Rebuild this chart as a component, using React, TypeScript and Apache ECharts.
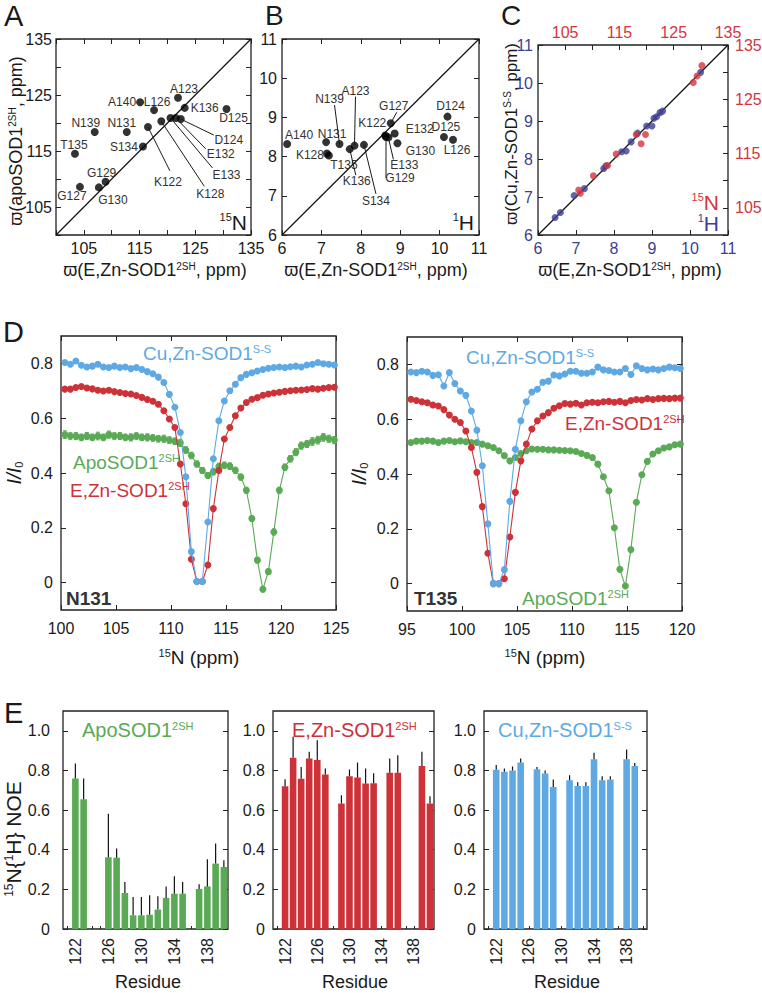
import React, { useEffect, useRef } from 'react';
import * as echarts from 'echarts';

const FONT = '"Liberation Sans", Arial, "DejaVu Sans", sans-serif';
const INK = '#1a1a1a';
const FRAME = '#222222';
const C_BLUE = '#5ea9e4';
const C_RED = '#cd3238';
const C_GREEN = '#5aaa55';
const C_NAVY = '#3d3f92';
const C_NRED = '#d3363d';

// ---------- Panels A & B : chemical shifts ----------
const residuesAB = ['K122', 'A123', 'D124', 'D125', 'L126', 'G127', 'K128', 'G129', 'G130', 'N131', 'E132', 'E133', 'S134', 'T135', 'K136', 'N139', 'A140'];
const nEZn = [116.5, 121.9, 122.4, 130.6, 117.6, 104.3, 118.9, 108.9, 107.7, 112.7, 121.5, 120.55, 115.6, 103.4, 123.1, 106.95, 115.1];
const nApo = [119.3, 124.5, 120.7, 122.5, 122.3, 108.6, 120.3, 109.5, 108.5, 118.4, 120.9, 120.9, 115.8, 114.5, 122.7, 118.4, 123.7];
const hEZn = [8.62, 7.84, 10.2, 10.11, 10.34, 8.76, 7.14, 8.64, 8.93, 7.12, 8.86, 8.7, 8.08, 7.19, 7.72, 7.46, 6.13];
const hApo = [8.54, 8.28, 9.02, 8.5, 8.43, 8.85, 8.08, 8.5, 8.34, 8.37, 8.59, 8.49, 8.3, 8.03, 8.19, 8.32, 8.32];

// label placement (pixel offsets from the point): label centre and optional leader-line end
const layoutA: any[] = [
  { l: [20, 55], ln: [22, 44] }, { l: [6, -9] }, { l: [48, 21], ln: [33, 16] }, { l: [7, 9] }, { l: [3, -8] },
  { l: [-8, 9] }, { l: [49, 73], ln: [43, 65] }, { l: [-4, -9] }, { l: [14, 13] }, { l: [-5, -9] },
  { l: [45, 36], ln: [30, 31] }, { l: [56, 57], ln: [42, 50] }, { l: [-19, 0] }, { l: [-1, -9] }, { l: [20, 0] },
  { l: [-9, -9] }, { l: [-18, 0] },
];
const layoutB: any[] = [
  { l: [-13, -12] }, { l: [1, -55], ln: [1, -49] }, { l: [3, -11] }, { l: [2, -10] }, { l: [4, 10] },
  { l: [3, -17], ln: [6, -11] }, { l: [-17, 2] }, { l: [14, 41], ln: [0, 41] }, { l: [23, 8] }, { l: [6, -8] },
  { l: [25, -4] }, { l: [16, 28], ln: [5, 22] }, { l: [12, 56], ln: [12, 49] }, { l: [15, 10] }, { l: [7, 32], ln: [6, 26] },
  { l: [-10, -45], ln: [-5, -39] }, { l: [12, -9] },
];

// ---------- Panel C : E,Zn vs Cu,Zn ----------
const cH_EZn = [6.45, 6.59, 6.95, 7.22, 7.73, 7.79, 8.2, 8.32, 8.45, 8.62, 8.86, 9.0, 9.05, 9.12, 9.21, 9.28, 10.28];
const cH_CuZn = [6.46, 6.59, 7.04, 7.22, 7.75, 7.82, 8.19, 8.21, 8.45, 8.68, 8.87, 8.87, 9.07, 9.11, 9.22, 9.26, 10.28];
const cN_EZn = [107.8, 107.5, 110.2, 112.8, 114.4, 118.1, 119.8, 119.0, 128.6, 129.3, 130.2];
const cN_CuZn = [107.7, 108.3, 110.9, 112.8, 114.9, 118.5, 118.5, 116.8, 128.1, 129.3, 131.2];

// ---------- Panel D : CEST profiles ----------
const n131Offsets = [100.35, 100.85, 101.35, 101.85, 102.35, 102.85, 103.35, 103.85, 104.35, 104.85, 105.35, 105.85, 106.35, 106.85, 107.35, 107.85, 108.35, 108.85, 109.35, 109.85, 110.35, 110.85, 111.35, 111.85, 112.35, 112.85, 113.35, 113.85, 114.35, 114.85, 115.35, 115.85, 116.35, 116.85, 117.35, 117.85, 118.35, 118.85, 119.35, 119.85, 120.35, 120.85, 121.35, 121.85, 122.35, 122.85, 123.35, 123.85, 124.35, 124.85];
const n131CuZn = [0.803, 0.797, 0.809, 0.793, 0.787, 0.79, 0.797, 0.787, 0.785, 0.79, 0.785, 0.787, 0.781, 0.785, 0.778, 0.77, 0.762, 0.75, 0.73, 0.687, 0.64, 0.548, 0.386, 0.113, 0.004, 0.004, 0.221, 0.452, 0.591, 0.663, 0.7, 0.724, 0.748, 0.76, 0.766, 0.772, 0.778, 0.782, 0.785, 0.787, 0.785, 0.788, 0.79, 0.787, 0.794, 0.797, 0.803, 0.799, 0.797, 0.794];
const n131EZn = [0.706, 0.706, 0.712, 0.716, 0.71, 0.707, 0.702, 0.699, 0.702, 0.697, 0.694, 0.69, 0.688, 0.683, 0.676, 0.668, 0.662, 0.651, 0.627, 0.597, 0.566, 0.433, 0.288, 0.085, 0.004, 0.004, 0.064, 0.27, 0.409, 0.524, 0.566, 0.609, 0.637, 0.657, 0.669, 0.675, 0.684, 0.688, 0.692, 0.695, 0.698, 0.7, 0.702, 0.703, 0.705, 0.708, 0.706, 0.709, 0.712, 0.713];
const n131Apo = [0.54, 0.535, 0.535, 0.53, 0.535, 0.53, 0.535, 0.53, 0.54, 0.535, 0.535, 0.53, 0.53, 0.535, 0.53, 0.53, 0.528, 0.525, 0.525, 0.52, 0.516, 0.51, 0.484, 0.464, 0.433, 0.409, 0.391, 0.405, 0.424, 0.428, 0.425, 0.41, 0.385, 0.337, 0.234, 0.082, -0.024, 0.04, 0.185, 0.337, 0.421, 0.452, 0.476, 0.5, 0.506, 0.515, 0.52, 0.53, 0.525, 0.52];
const n131ApoErr = [0.014, 0.012, 0.013, 0.012, 0.013, 0.012, 0.014, 0.012, 0.013, 0.012, 0.013, 0.012, 0.013, 0.012, 0.012, 0.013, 0.012, 0.012, 0.013, 0.012, 0.012, 0.013, 0.012, 0.012, 0.011, 0.011, 0.011, 0.012, 0.012, 0.012, 0.012, 0.011, 0.011, 0.011, 0.01, 0.01, 0.01, 0.01, 0.011, 0.011, 0.012, 0.012, 0.013, 0.013, 0.013, 0.014, 0.014, 0.014, 0.013, 0.013];

const t135Offsets = [95.35, 95.85, 96.35, 96.85, 97.35, 97.85, 98.35, 98.85, 99.35, 99.85, 100.35, 100.85, 101.35, 101.85, 102.35, 102.85, 103.35, 103.85, 104.35, 104.85, 105.35, 105.85, 106.35, 106.85, 107.35, 107.85, 108.35, 108.85, 109.35, 109.85, 110.35, 110.85, 111.35, 111.85, 112.35, 112.85, 113.35, 113.85, 114.35, 114.85, 115.35, 115.85, 116.35, 116.85, 117.35, 117.85, 118.35, 118.85, 119.35, 119.85];
const t135CuZn = [0.772, 0.77, 0.775, 0.772, 0.76, 0.762, 0.721, 0.77, 0.73, 0.703, 0.687, 0.63, 0.56, 0.43, 0.218, 0.0, 0.0, 0.051, 0.3, 0.49, 0.594, 0.664, 0.699, 0.709, 0.735, 0.739, 0.761, 0.758, 0.765, 0.775, 0.775, 0.768, 0.768, 0.772, 0.79, 0.78, 0.778, 0.772, 0.772, 0.785, 0.763, 0.795, 0.785, 0.78, 0.783, 0.78, 0.785, 0.79, 0.788, 0.785];
const t135EZn = [0.673, 0.668, 0.664, 0.66, 0.652, 0.648, 0.635, 0.615, 0.6, 0.588, 0.557, 0.497, 0.406, 0.281, 0.111, 0.0, 0.0, 0.018, 0.17, 0.333, 0.448, 0.509, 0.564, 0.594, 0.612, 0.624, 0.64, 0.649, 0.657, 0.655, 0.658, 0.652, 0.66, 0.662, 0.66, 0.664, 0.665, 0.662, 0.665, 0.66, 0.668, 0.672, 0.67, 0.675, 0.672, 0.675, 0.676, 0.675, 0.677, 0.677];
const t135Apo = [0.515, 0.52, 0.52, 0.522, 0.52, 0.515, 0.52, 0.522, 0.518, 0.521, 0.518, 0.515, 0.515, 0.509, 0.503, 0.497, 0.485, 0.467, 0.448, 0.46, 0.475, 0.485, 0.491, 0.49, 0.49, 0.488, 0.488, 0.487, 0.486, 0.485, 0.482, 0.475, 0.468, 0.46, 0.436, 0.39, 0.339, 0.204, 0.052, -0.009, 0.124, 0.297, 0.397, 0.446, 0.473, 0.485, 0.495, 0.499, 0.507, 0.509];

// ---------- Panel E : heteronuclear NOE ----------
const residuesE = [122, 123, 124, 125, 126, 127, 128, 129, 130, 131, 132, 133, 134, 135, 136, 137, 138, 139, 140];
const noeApo = [0.76, 0.655, null, null, 0.362, 0.36, 0.182, 0.069, 0.069, 0.072, 0.098, 0.157, 0.178, 0.178, null, 0.202, 0.215, 0.33, 0.313];
const errApo = [0.075, 0.105, null, null, 0.22, 0.046, 0.055, 0.093, 0.093, 0.098, 0.067, 0.058, 0.088, 0.059, null, 0.024, 0.137, 0.101, 0.034];
const noeEZn = [0.72, 0.864, 0.758, 0.86, 0.853, 0.78, null, 0.633, 0.771, 0.764, 0.734, 0.736, null, 0.788, 0.788, null, null, 0.822, 0.633];
const errEZn = [0.036, 0.106, 0.06, 0.034, 0.1, 0.03, null, 0.042, 0.034, 0.076, 0.076, 0.05, null, 0.072, 0.089, null, null, 0.072, 0.037];
const noeCu = [0.803, 0.793, 0.8, 0.84, null, 0.806, 0.785, 0.717, null, 0.75, 0.722, 0.722, 0.857, 0.75, 0.754, null, 0.857, 0.822, null];
const errCu = [0.024, 0.017, 0.02, 0.02, null, 0.012, 0.015, 0.037, null, 0.026, 0.018, 0.018, 0.032, 0.021, 0.017, null, 0.049, 0.016, null];

const abTicks = [105, 115, 125, 135];
const hTicks = [6, 7, 8, 9, 10, 11];
const dYTicks = [0, 0.2, 0.4, 0.6, 0.8];
const eYTicks = [0, 0.2, 0.4, 0.6, 0.8, 1.0];
const eXLabels = ['122', '126', '130', '134', '138'];
const eXCategories = ['121', '122', '123', '124', '125', '126', '127', '128', '129', '130', '131', '132', '133', '134', '135', '136', '137', '138', '139', '140'];

// ---------- layout ----------
const grids = [
  { left: 56, top: 39, width: 195, height: 196 },   // A
  { left: 282, top: 39, width: 197, height: 196 },  // B
  { left: 538, top: 45, width: 190, height: 190 },  // C
  { left: 61, top: 336, width: 275, height: 274 },  // D left
  { left: 407, top: 337, width: 275, height: 274 }, // D right
  { left: 63, top: 711, width: 165, height: 218 },  // E apo
  { left: 273, top: 711, width: 161, height: 218 }, // E E,Zn
  { left: 484, top: 711, width: 163, height: 218 }, // E Cu,Zn
];

function mkAxis(o: any) {
  const label: any = {
    show: !!o.labels, color: o.color || INK, fontSize: o.fontSize || 16, fontFamily: FONT,
    margin: o.margin ?? 6, hideOverlap: false,
  };
  if (Array.isArray(o.labels)) label.customValues = o.labels;
  if (o.fmt) label.formatter = o.fmt;
  const tick: any = { show: o.tickShow !== false, inside: true, length: o.tickLen || 5, lineStyle: { color: FRAME, width: 1 } };
  if (o.ticks) tick.customValues = o.ticks;
  const ax: any = {
    type: 'value', gridIndex: o.grid, position: o.pos, min: o.min, max: o.max,
    axisLine: { show: false, onZero: false }, splitLine: { show: false },
    axisTick: tick, axisLabel: label,
  };
  if (o.interval) ax.interval = o.interval;
  return ax;
}

function mkCatAxis(grid: number, pos: string, withLabels: boolean) {
  return {
    type: 'category', gridIndex: grid, position: pos, data: eXCategories, boundaryGap: true,
    axisLine: { show: false, onZero: false }, splitLine: { show: false },
    axisTick: { show: withLabels, inside: true, length: 3, alignWithLabel: true, interval: 0, lineStyle: { color: FRAME, width: 1 } },
    axisLabel: {
      show: withLabels, rotate: 90, margin: 9, fontSize: 16, color: INK, fontFamily: FONT,
      interval: (i: number, v: string) => eXLabels.indexOf(v) >= 0,
    },
  };
}

const dFmt = (v: number) => (Math.abs(v) < 1e-9 ? '0' : v.toFixed(1));

function buildAxes() {
  const xs: any[] = [];
  const ys: any[] = [];
  // A
  xs.push(mkAxis({ grid: 0, pos: 'bottom', min: 100, max: 135, interval: 5, labels: abTicks, margin: 5 }));
  xs.push(mkAxis({ grid: 0, pos: 'top', min: 100, max: 135, interval: 5 }));
  ys.push(mkAxis({ grid: 0, pos: 'left', min: 100, max: 135, interval: 5, labels: abTicks, margin: 4 }));
  ys.push(mkAxis({ grid: 0, pos: 'right', min: 100, max: 135, interval: 5 }));
  // B
  xs.push(mkAxis({ grid: 1, pos: 'bottom', min: 6, max: 11, interval: 1, labels: hTicks, margin: 5 }));
  xs.push(mkAxis({ grid: 1, pos: 'top', min: 6, max: 11, interval: 1 }));
  ys.push(mkAxis({ grid: 1, pos: 'left', min: 6, max: 11, interval: 1, labels: hTicks, margin: 5 }));
  ys.push(mkAxis({ grid: 1, pos: 'right', min: 6, max: 11, interval: 1 }));
  // C
  xs.push(mkAxis({ grid: 2, pos: 'bottom', min: 6, max: 11, interval: 1, labels: hTicks, color: C_NAVY, margin: 5 }));
  xs.push(mkAxis({ grid: 2, pos: 'top', min: 100, max: 135, interval: 5, labels: abTicks, color: C_NRED, margin: 5 }));
  ys.push(mkAxis({ grid: 2, pos: 'left', min: 6, max: 11, interval: 1, labels: hTicks, color: C_NAVY, margin: 5 }));
  ys.push(mkAxis({ grid: 2, pos: 'right', min: 100, max: 135, interval: 5, labels: abTicks, color: C_NRED, margin: 7 }));
  // D left
  xs.push(mkAxis({ grid: 3, pos: 'bottom', min: 100, max: 125, interval: 5, labels: true, margin: 10 }));
  xs.push(mkAxis({ grid: 3, pos: 'top', min: 100, max: 125, interval: 5 }));
  ys.push(mkAxis({ grid: 3, pos: 'left', min: -0.1, max: 0.9, ticks: dYTicks, labels: dYTicks, fmt: dFmt, margin: 8 }));
  ys.push(mkAxis({ grid: 3, pos: 'right', min: -0.1, max: 0.9, ticks: dYTicks }));
  // D right
  xs.push(mkAxis({ grid: 4, pos: 'bottom', min: 95, max: 120, interval: 5, labels: true, margin: 10 }));
  xs.push(mkAxis({ grid: 4, pos: 'top', min: 95, max: 120, interval: 5 }));
  ys.push(mkAxis({ grid: 4, pos: 'left', min: -0.1, max: 0.9, ticks: dYTicks, labels: dYTicks, fmt: dFmt, margin: 8 }));
  ys.push(mkAxis({ grid: 4, pos: 'right', min: -0.1, max: 0.9, ticks: dYTicks }));
  // E panels
  for (let k = 0; k < 3; k++) {
    const g = 5 + k;
    xs.push(mkCatAxis(g, 'bottom', true));
    xs.push(mkCatAxis(g, 'top', false));
    ys.push(mkAxis({ grid: g, pos: 'left', min: 0, max: 1.1, ticks: eYTicks, labels: eYTicks, fmt: dFmt, margin: k === 0 ? 13 : 8 }));
    ys.push(mkAxis({ grid: g, pos: 'right', min: 0, max: 1.1, ticks: eYTicks }));
  }
  return { xs, ys };
}

function labelSeries(axis: number, xv: number[], yv: number[], layout: any[]) {
  return {
    type: 'custom', xAxisIndex: axis, yAxisIndex: axis, silent: true, z: 4,
    data: residuesAB.map((_, i) => [xv[i], yv[i], i]),
    renderItem: (params: any, api: any) => {
      const i = api.value(2);
      const p = api.coord([api.value(0), api.value(1)]);
      const L = layout[i];
      const children: any[] = [];
      if (L.ln) {
        children.push({
          type: 'line',
          shape: { x1: p[0], y1: p[1], x2: p[0] + L.ln[0], y2: p[1] + L.ln[1] },
          style: { stroke: '#1a1a1a', lineWidth: 1 },
        });
      }
      children.push({
        type: 'text', x: p[0] + L.l[0], y: p[1] + L.l[1],
        style: { text: residuesAB[i], fill: '#333', fontSize: 12, fontFamily: FONT, align: 'center', verticalAlign: 'middle' },
      });
      return { type: 'group', children };
    },
  };
}

function diagSeries(axis: number, lo: number, hi: number) {
  return {
    type: 'line', xAxisIndex: axis, yAxisIndex: axis, data: [[lo, lo], [hi, hi]],
    symbol: 'none', lineStyle: { color: '#111', width: 1.2 }, z: 2, silent: true,
  };
}

function cestLine(axis: number, xv: number[], yv: number[], color: string, z: number) {
  return {
    type: 'line', xAxisIndex: axis, yAxisIndex: axis, data: xv.map((x, i) => [x, yv[i]]),
    symbol: 'circle', symbolSize: 7, showSymbol: true, z,
    lineStyle: { color, width: 1.1 }, itemStyle: { color, borderWidth: 0 },
  };
}

function cestErr(axis: number, xv: number[], yv: number[], ev: number[], color: string) {
  return {
    type: 'custom', xAxisIndex: axis, yAxisIndex: axis, silent: true, z: 3,
    data: xv.map((x, i) => [x, yv[i], ev[i]]),
    renderItem: (params: any, api: any) => {
      const x = api.value(0), y = api.value(1), e = api.value(2);
      const a = api.coord([x, y - e]);
      const b = api.coord([x, y + e]);
      return {
        type: 'group', children: [
          { type: 'line', shape: { x1: a[0], y1: a[1], x2: b[0], y2: b[1] }, style: { stroke: color, lineWidth: 1 } },
          { type: 'line', shape: { x1: a[0] - 2, y1: a[1], x2: a[0] + 2, y2: a[1] }, style: { stroke: color, lineWidth: 1 } },
          { type: 'line', shape: { x1: b[0] - 2, y1: b[1], x2: b[0] + 2, y2: b[1] }, style: { stroke: color, lineWidth: 1 } },
        ],
      };
    },
  };
}

function noeBars(axis: number, vals: (number | null)[], color: string) {
  const data = eXCategories.map((c) => {
    const i = residuesE.indexOf(Number(c));
    return i >= 0 && vals[i] != null ? vals[i] : '-';
  });
  return {
    type: 'bar', xAxisIndex: axis, yAxisIndex: axis, data, barWidth: 6.6, z: 2,
    itemStyle: { color }, silent: true,
  };
}

function noeErr(axis: number, vals: (number | null)[], errs: (number | null)[]) {
  const data: any[] = [];
  residuesE.forEach((r, i) => {
    if (vals[i] != null && errs[i] != null) data.push([eXCategories.indexOf(String(r)), vals[i], errs[i]]);
  });
  return {
    type: 'custom', xAxisIndex: axis, yAxisIndex: axis, silent: true, z: 3, data,
    renderItem: (params: any, api: any) => {
      const x = api.value(0), y = api.value(1), e = api.value(2);
      const a = api.coord([x, y]);
      const b = api.coord([x, y + e]);
      return { type: 'line', shape: { x1: a[0], y1: a[1], x2: b[0], y2: b[1] }, style: { stroke: '#111', lineWidth: 1.2 } };
    },
  };
}

function rich(color: string, supSize: number, extra: any = {}) {
  return {
    s: { fontSize: supSize, fill: color, fontFamily: FONT, verticalAlign: 'top', ...extra },
    sub: { fontSize: supSize, fill: color, fontFamily: FONT, verticalAlign: 'bottom', ...extra },
    i: { fontSize: 20, fill: color, fontFamily: FONT, fontStyle: 'italic' },
  };
}

function txt(x: number, y: number, text: string, o: any = {}) {
  const color = o.color || INK;
  const size = o.size || 16;
  return {
    type: 'text', x, y, rotation: o.rot || 0, silent: true, z: 50,
    style: {
      text, fill: color, fontSize: size, fontFamily: FONT,
      fontWeight: o.weight || 'normal', fontStyle: o.style || 'normal',
      align: o.align || 'left', verticalAlign: 'middle',
      rich: rich(color, o.sup || Math.round(size * 0.58), o.weight ? { fontWeight: o.weight } : {}),
    },
  };
}

function buildGraphics() {
  const g: any[] = [];
  // panel letters
  g.push(txt(4, 16, 'A', { size: 29 }));
  g.push(txt(265, 15, 'B', { size: 28 }));
  g.push(txt(501, 15, 'C', { size: 28 }));
  g.push(txt(3, 332, 'D', { size: 29 }));
  g.push(txt(4, 713, 'E', { size: 29 }));
  // A-C axis titles
  const xt = 'ϖ(E,Zn-SOD1{s|2SH}, ppm)';
  g.push(txt(155, 270, xt, { size: 18, align: 'center', sup: 10 }));
  g.push(txt(376, 270, xt, { size: 18, align: 'center', sup: 10 }));
  g.push(txt(630, 270, xt, { size: 18, align: 'center', sup: 10 }));
  g.push(txt(16, 141, 'ϖ(apoSOD1{s|2SH}, ppm)', { size: 18, align: 'center', rot: Math.PI / 2, sup: 10 }));
  g.push(txt(511, 134, 'ϖ(Cu,Zn-SOD1{s|S-S}, ppm)', { size: 17, align: 'center', rot: Math.PI / 2, sup: 10 }));
  // nucleus tags
  g.push(txt(247, 222, '{s|15}N', { size: 21, align: 'right', sup: 11 }));
  g.push(txt(474, 222, '{s|1}H', { size: 21, align: 'right', sup: 11 }));
  g.push(txt(719, 202, '{s|15}N', { size: 21, align: 'right', color: C_NRED, sup: 11 }));
  g.push(txt(719, 223, '{s|1}H', { size: 21, align: 'right', color: C_NAVY, sup: 11 }));
  // D titles
  g.push(txt(14, 473, '{i|I/I}{sub|0}', { size: 20, align: 'center', rot: Math.PI / 2, sup: 11 }));
  g.push(txt(359, 474, '{i|I/I}{sub|0}', { size: 20, align: 'center', rot: Math.PI / 2, sup: 11 }));
  g.push(txt(199, 657, '{s|15}N (ppm)', { size: 19, align: 'center', sup: 11 }));
  g.push(txt(545, 657, '{s|15}N (ppm)', { size: 19, align: 'center', sup: 11 }));
  g.push(txt(66, 598, 'N131', { size: 19, weight: 'bold', color: '#333' }));
  g.push(txt(414, 598, 'T135', { size: 19, weight: 'bold', color: '#333' }));
  // D legends
  g.push(txt(143, 353, 'Cu,Zn-SOD1{s|S-S}', { size: 19, color: C_BLUE, sup: 11 }));
  g.push(txt(73, 462, 'ApoSOD1{s|2SH}', { size: 19, color: C_GREEN, sup: 11 }));
  g.push(txt(70, 490, 'E,Zn-SOD1{s|2SH}', { size: 19, color: C_RED, sup: 11 }));
  g.push(txt(466, 357, 'Cu,Zn-SOD1{s|S-S}', { size: 19, color: C_BLUE, sup: 11 }));
  g.push(txt(565, 423, 'E,Zn-SOD1{s|2SH}', { size: 19, color: C_RED, sup: 11 }));
  g.push(txt(522, 598, 'ApoSOD1{s|2SH}', { size: 19, color: C_GREEN, sup: 11 }));
  // E titles
  g.push(txt(13, 839, '{s|15}N{{s|1}H} NOE', { size: 21, align: 'center', rot: Math.PI / 2, sup: 12 }));
  g.push(txt(82, 730, 'ApoSOD1{s|2SH}', { size: 20, color: C_GREEN, sup: 11 }));
  g.push(txt(292, 730, 'E,Zn-SOD1{s|2SH}', { size: 20, color: C_RED, sup: 11 }));
  g.push(txt(498, 730, 'Cu,Zn-SOD1{s|S-S}', { size: 20, color: C_BLUE, sup: 11 }));
  g.push(txt(148, 982, 'Residue', { size: 18, align: 'center' }));
  g.push(txt(355, 982, 'Residue', { size: 18, align: 'center' }));
  g.push(txt(567, 982, 'Residue', { size: 18, align: 'center' }));
  return g;
}

function buildOption() {
  const { xs, ys } = buildAxes();
  const series: any[] = [];
  // A
  series.push(diagSeries(0, 100, 135));
  series.push({ type: 'scatter', xAxisIndex: 0, yAxisIndex: 0, data: nEZn.map((x, i) => [x, nApo[i]]), symbolSize: 8, itemStyle: { color: '#000' }, z: 3 });
  series.push(labelSeries(0, nEZn, nApo, layoutA));
  // B
  series.push(diagSeries(2, 6, 11));
  series.push({ type: 'scatter', xAxisIndex: 2, yAxisIndex: 2, data: hEZn.map((x, i) => [x, hApo[i]]), symbolSize: 8, itemStyle: { color: '#000' }, z: 3 });
  series.push(labelSeries(2, hEZn, hApo, layoutB));
  // C
  series.push(diagSeries(4, 6, 11));
  series.push({ type: 'scatter', xAxisIndex: 4, yAxisIndex: 4, data: cH_EZn.map((x, i) => [x, cH_CuZn[i]]), symbolSize: 7, itemStyle: { color: C_NAVY }, z: 3 });
  series.push({ type: 'scatter', xAxisIndex: 5, yAxisIndex: 5, data: cN_EZn.map((x, i) => [x, cN_CuZn[i]]), symbolSize: 7, itemStyle: { color: C_NRED }, z: 3 });
  // D left
  series.push(cestErr(6, n131Offsets, n131Apo, n131ApoErr, C_GREEN));
  series.push(cestLine(6, n131Offsets, n131Apo, C_GREEN, 4));
  series.push(cestLine(6, n131Offsets, n131EZn, C_RED, 5));
  series.push(cestLine(6, n131Offsets, n131CuZn, C_BLUE, 6));
  // D right
  series.push(cestLine(8, t135Offsets, t135Apo, C_GREEN, 4));
  series.push(cestLine(8, t135Offsets, t135EZn, C_RED, 5));
  series.push(cestLine(8, t135Offsets, t135CuZn, C_BLUE, 6));
  // E
  series.push(noeBars(10, noeApo, C_GREEN));
  series.push(noeErr(10, noeApo, errApo));
  series.push(noeBars(12, noeEZn, C_RED));
  series.push(noeErr(12, noeEZn, errEZn));
  series.push(noeBars(14, noeCu, C_BLUE));
  series.push(noeErr(14, noeCu, errCu));

  return {
    animation: false,
    backgroundColor: '#ffffff',
    textStyle: { fontFamily: FONT },
    grid: grids.map((g) => ({
      ...g, show: true, borderColor: FRAME, borderWidth: 1.3, backgroundColor: 'transparent',
      containLabel: false, outerBoundsMode: 'none',
    })),
    xAxis: xs,
    yAxis: ys,
    series,
    graphic: { elements: buildGraphics() },
  };
}

export default function App() {
  const ref = useRef<HTMLDivElement>(null);
  useEffect(() => {
    if (!ref.current) return;
    const chart = echarts.init(ref.current, null, { renderer: 'svg' });
    chart.setOption(buildOption() as any);
    return () => chart.dispose();
  }, []);
  return (
    <div
      ref={ref}
      style={{ position: 'fixed', left: 0, top: 0, width: 762, height: 993, background: '#fff' }}
    />
  );
}
